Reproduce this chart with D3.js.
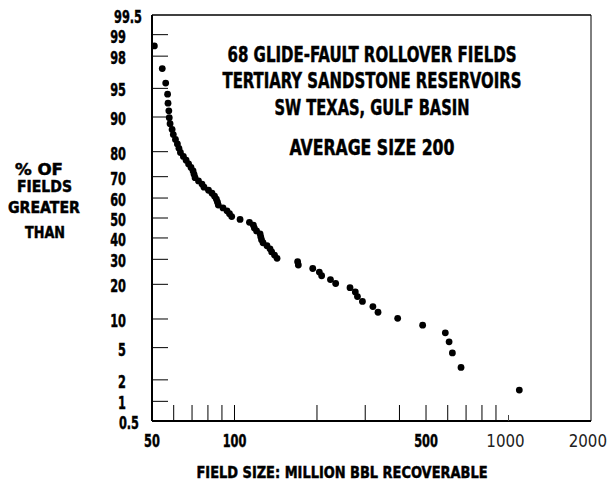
<!DOCTYPE html>
<html><head><meta charset="utf-8">
<script src="https://cdn.jsdelivr.net/npm/d3@7"></script>
<style>
html,body{margin:0;padding:0;background:#fff;}
svg{display:block;}
text{font-family:"Liberation Sans Narrow","DejaVu Sans Condensed","DejaVu Sans",sans-serif;font-weight:bold;fill:#000;}
text.heavy{stroke:#000;stroke-width:0.45px;}
</style></head>
<body>
<svg id="chart" width="609" height="485"></svg>
<script>
// ---- data (largest field first) ----
const fieldSizes = [1095, 671, 624, 607, 588, 486, 394, 334, 320, 293,
  281, 276, 264, 234, 224, 208, 204, 193, 171, 170,
  143, 140, 136.7, 134.8, 131.4, 127.1, 125.5, 124.7, 124, 120.4,
  118.2, 117.2, 113.4, 104.8, 97.7, 95.9, 93.9, 90.8, 87.3, 86.7,
  85.9, 84.6, 82.8, 80.4, 77.4, 76.1, 73.9, 71.8, 71.2, 70.6,
  69.4, 68.0, 66.6, 65.1, 63.5, 62.7, 61.9, 60.9, 59.8, 59.2,
  58.2, 57.8, 57.6, 57.2, 57.0, 56.1, 54.5, 51.0];
const pctGreater = [1.45, 2.90, 4.35, 5.80, 7.25, 8.70, 10.14, 11.59, 13.04, 14.49,
  15.94, 17.39, 18.84, 20.29, 21.74, 23.19, 24.64, 26.09, 27.54, 28.99,
  30.43, 31.88, 33.33, 34.78, 36.23, 37.68, 39.13, 40.58, 42.03, 43.48,
  44.93, 46.38, 47.83, 49.28, 50.72, 52.17, 53.62, 55.07, 56.52, 57.97,
  59.42, 60.87, 62.32, 63.77, 65.22, 66.67, 68.12, 69.57, 71.01, 72.46,
  73.91, 75.36, 76.81, 78.26, 79.71, 81.16, 82.61, 84.06, 85.51, 86.96,
  88.41, 89.86, 91.30, 92.75, 94.20, 95.65, 97.10, 98.55];
const yTickValues = [99, 98, 95, 90, 80, 70, 60, 50, 40, 30, 20, 10, 5, 2, 1];
const yLabelValues = ["99.5", "99", "98", "95", "90", "80", "70", "60", "50", "40", "30", "20", "10", "5", "2", "1", "0.5"];
const xTickValues = [60, 70, 80, 90, 100, 200, 300, 400, 500, 600, 700, 800, 900];
const xShortTickValues = [1000];
const xLabelValues = [50, 100, 500, 1000, 2000];
const titleLines = ["68 GLIDE-FAULT ROLLOVER FIELDS", "TERTIARY SANDSTONE RESERVOIRS", "SW TEXAS, GULF BASIN", "AVERAGE SIZE 200"];
const yTitleLines = ["% OF", "FIELDS", "GREATER", "THAN"];
const xTitle = "FIELD SIZE: MILLION BBL RECOVERABLE";

// inverse normal CDF (Acklam)
function probit(p){
  const a=[-3.969683028665376e+01,2.209460984245205e+02,-2.759285104469687e+02,1.383577518672690e+02,-3.066479806614716e+01,2.506628277459239e+00];
  const b=[-5.447609879822406e+01,1.615858368580409e+02,-1.556989798598866e+02,6.680131188771972e+01,-1.328068155288572e+01];
  const c=[-7.784894002430293e-03,-3.223964580411365e-01,-2.400758277161838e+00,-2.549732539343734e+00,4.374664141464968e+00,2.938163982698783e+00];
  const d=[7.784695709041462e-03,3.224671290700398e-01,2.445134137142996e+00,3.754408661907416e+00];
  const pl=0.02425, ph=1-pl; let q,r;
  if(p<pl){q=Math.sqrt(-2*Math.log(p));return (((((c[0]*q+c[1])*q+c[2])*q+c[3])*q+c[4])*q+c[5])/((((d[0]*q+d[1])*q+d[2])*q+d[3])*q+1);}
  if(p<=ph){q=p-0.5;r=q*q;return (((((a[0]*r+a[1])*r+a[2])*r+a[3])*r+a[4])*r+a[5])*q/(((((b[0]*r+b[1])*r+b[2])*r+b[3])*r+b[4])*r+1);}
  q=Math.sqrt(-2*Math.log(1-p));return -(((((c[0]*q+c[1])*q+c[2])*q+c[3])*q+c[4])*q+c[5])/((((d[0]*q+d[1])*q+d[2])*q+d[3])*q+1);
}

const L=152, R=591, T=15, B=421;
const x = d3.scaleLog().domain([50, 2000]).range([L, R]);
const zScale = d3.scaleLinear().domain([probit(0.005), probit(0.995)]).range([B, T]);
const y = v => zScale(probit(v/100));

const svg = d3.select("#chart");

// condense text horizontally to a fraction of its natural width
function condense(sel, f){
  sel.each(function(){
    const w = this.getComputedTextLength();
    this.setAttribute("textLength", (w*f).toFixed(1));
    this.setAttribute("lengthAdjust","spacingAndGlyphs");
  });
}

// frame
svg.append("line").attr("x1",L).attr("x2",R).attr("y1",T).attr("y2",T).attr("stroke","#000").attr("stroke-width",1.3);
svg.append("line").attr("x1",R).attr("x2",R).attr("y1",T).attr("y2",B).attr("stroke","#000").attr("stroke-width",1);
svg.append("line").attr("x1",L).attr("x2",L).attr("y1",T).attr("y2",B).attr("stroke","#000").attr("stroke-width",2);
svg.append("line").attr("x1",L).attr("x2",R).attr("y1",B).attr("y2",B).attr("stroke","#000").attr("stroke-width",2);

// y ticks
svg.append("g").selectAll("line").data(yTickValues).join("line")
  .attr("x1",L).attr("x2",L+16).attr("y1",d=>y(d)).attr("y2",d=>y(d))
  .attr("stroke","#000").attr("stroke-width",1);
// y labels
const yl = svg.append("g").selectAll("text").data(yLabelValues).join("text")
  .attr("class","heavy")
  .attr("x",d=> d==="99.5" ? 142 : d==="0.5" ? 139 : 126)
  .attr("y",d=>y(+d)+1.5)
  .attr("dy","0.36em")
  .attr("text-anchor","end")
  .attr("font-size",18)
  .text(d=>d);
condense(yl, 0.7);

// x ticks
svg.append("g").selectAll("line").data(xTickValues).join("line")
  .attr("x1",d=>x(d)).attr("x2",d=>x(d)).attr("y1",B).attr("y2",B-16)
  .attr("stroke","#000").attr("stroke-width",1);
svg.append("g").selectAll("line").data(xShortTickValues).join("line")
  .attr("x1",d=>x(d)).attr("x2",d=>x(d)).attr("y1",B).attr("y2",B-6)
  .attr("stroke","#444").attr("stroke-width",1);
// x labels
const xl = svg.append("g").selectAll("text").data(xLabelValues).join("text")
  .attr("class",d=>d<1000?"heavy":null)
  .attr("x",d=> d===2000 ? 607 : x(d)-(d===1000?3:0)).attr("y",447)
  .attr("text-anchor",d=> d===2000 ? "end" : "middle")
  .attr("font-size",18)
  .style("font-weight",d=>d>=1000?"normal":"bold")
  .style("fill",d=>d>=1000?"#222":"#000")
  .text(d=>d);
xl.filter(d=>d<1000).call(condense, 0.7);
xl.filter(d=>d>=1000).call(condense, 0.93);

// points
svg.append("g").selectAll("circle").data(fieldSizes).join("circle")
  .attr("cx",d=>x(d)).attr("cy",(d,i)=>y(pctGreater[i]))
  .attr("r",3.4).attr("fill","#000");

// title block
const titleBase=[62,88,115,155], titleW=[289,299,195,165];
svg.append("g").selectAll("text").data(titleLines).join("text")
  .attr("class","heavy")
  .attr("x",372).attr("y",(d,i)=>titleBase[i])
  .attr("text-anchor","middle").attr("font-size",20.5)
  .attr("textLength",(d,i)=>titleW[i]).attr("lengthAdjust","spacingAndGlyphs")
  .text(d=>d);

// y title
const yTB=[175,192,213,238], yTW=[48,55,72,40], yTX=[39,44.5,44,45];
svg.append("g").selectAll("text").data(yTitleLines).join("text")
  .attr("class","heavy")
  .attr("x",(d,i)=>yTX[i]).attr("y",(d,i)=>yTB[i])
  .attr("text-anchor","middle").attr("font-size",15.5)
  .attr("textLength",(d,i)=>yTW[i]).attr("lengthAdjust","spacingAndGlyphs")
  .text(d=>d);

// x title
svg.append("text").attr("class","heavy").attr("x",342).attr("y",478).attr("text-anchor","middle")
  .attr("font-size",15).attr("textLength",291).attr("lengthAdjust","spacingAndGlyphs")
  .text(xTitle);
</script>
</body></html>
